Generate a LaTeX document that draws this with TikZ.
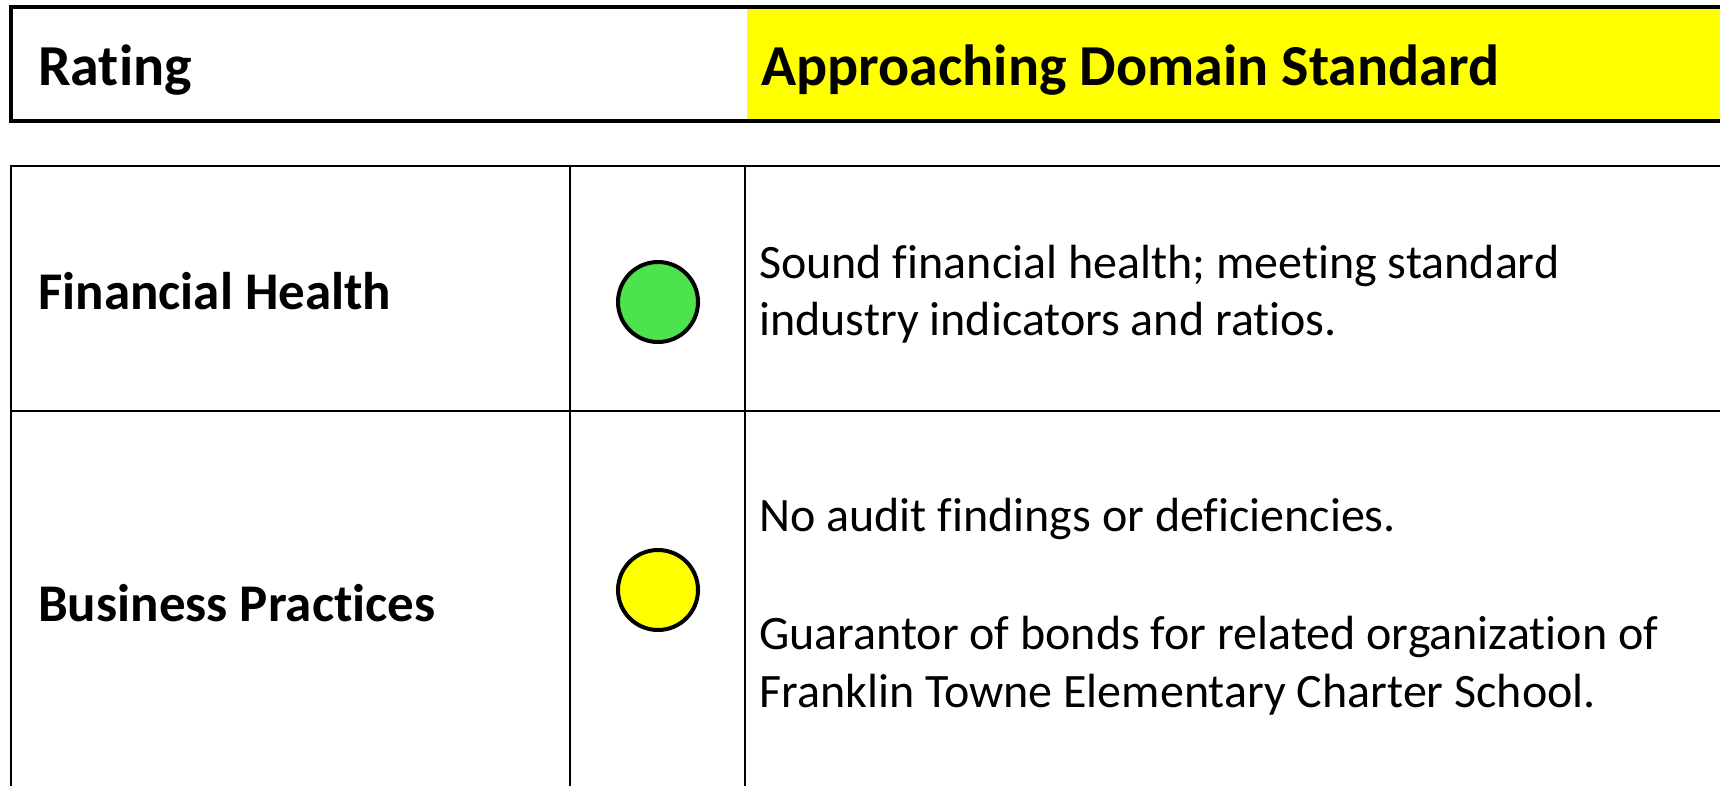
\documentclass[tikz,border=0pt]{standalone}
\usepackage{fontspec}
\setmainfont[Ligatures=NoCommon]{Carlito}
\definecolor{pureyellow}{RGB}{255,255,0}
\definecolor{dotgreen}{RGB}{76,227,76}
\begin{document}
\begin{tikzpicture}[x=1pt,y=-1pt,
  hdr/.style={font=\fontsize{58}{70}\selectfont\bfseries, anchor=base west, inner sep=0pt},
  lbl/.style={font=\fontsize{53}{64}\selectfont\bfseries, anchor=base west, inner sep=0pt},
  body/.style={font=\fontsize{48}{57}\selectfont, anchor=base west, inner sep=0pt},
  grid/.style={line width=2.2pt, draw=black},
  dot/.style={circle, draw=black, line width=4pt, minimum size=80pt, inner sep=0pt}]
\useasboundingbox (0,0) rectangle (1720,786);
\clip (0,0) rectangle (1720,786);
% header box
\fill[pureyellow] (747,7) rectangle (1730,121);
\draw[line width=3.4pt] (11,7) rectangle (1730,121);
\node[hdr] (rating) at (38,86) {Rating};
\node[hdr] (appr) at (761,86) {Approaching Domain Standard};
% table
\draw[grid] (11,800) -- (11,166) -- (1730,166);
\draw[grid] (570,166) -- (570,800);
\draw[grid] (745,166) -- (745,800);
\draw[grid] (11,411) -- (1730,411);
% row 1
\node[lbl] (fh) at (38,309) {Financial Health};
\node[dot, fill=dotgreen] (g) at (658,302) {};
\node[body] (t1) at (759,278) {Sound financial health; meeting standard};
\node[body] (t2) at (759,335) {industry indicators and ratios.};
% row 2
\node[lbl] (bp) at (38,621) {Business Practices};
\node[dot, fill=pureyellow] (y) at (658,590) {};
\node[body] (t3) at (759,531) {No audit findings or deficiencies.};
\node[body] (t4) at (759,649) {Guarantor of bonds for related organization of};
\node[body] (t5) at (759,707) {Franklin Towne Elementary Charter School.};
\end{tikzpicture}
\end{document}
